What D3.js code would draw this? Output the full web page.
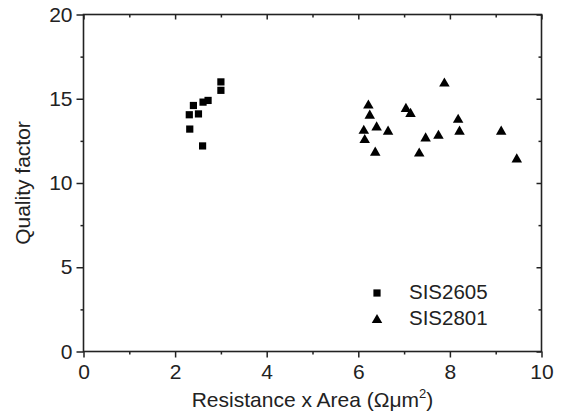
<!DOCTYPE html>
<html>
<head>
<meta charset="utf-8">
<script src="https://cdn.jsdelivr.net/npm/d3@7"></script>
<style>
  body { margin: 0; background: #fff; }
  text { font-family: "Liberation Sans", Arial, sans-serif; fill: #222; }
</style>
</head>
<body>
<div id="chart"></div>
<script>
// data
var sis2605X = [3.0, 3.0, 2.72, 2.61, 2.40, 2.51, 2.31, 2.32, 2.60];
var sis2605Y = [16.0, 15.5, 14.9, 14.8, 14.6, 14.1, 14.05, 13.2, 12.2];

var sis2801X = [7.88, 6.22, 6.25, 7.04, 7.14, 6.12, 6.40, 6.65, 6.14, 6.37, 7.47, 7.75, 7.33, 8.18, 8.21, 9.12, 9.46];
var sis2801Y = [15.9, 14.6, 14.0, 14.4, 14.1, 13.1, 13.3, 13.05, 12.55, 11.8, 12.65, 12.8, 11.75, 13.75, 13.05, 13.05, 11.4];

var xTicks = [0, 2, 4, 6, 8, 10];
var yTicks = [0, 5, 10, 15, 20];

var width = 563, height = 413;
var margin = {left: 83.5, right: 21.5, top: 14.5, bottom: 61.5};

var svg = d3.select("#chart").append("svg")
  .attr("width", width)
  .attr("height", height);

var xScale = d3.scaleLinear().domain([0, 10]).range([margin.left, width - margin.right]);
var yScale = d3.scaleLinear().domain([0, 20]).range([height - margin.bottom, margin.top]);

var x0 = xScale(0), x1 = xScale(10), y0 = yScale(0), y1 = yScale(20);

// axes: outward ticks bottom/left, inward on the mirrored top/right
function styleAxis(g) {
  g.select(".domain").remove();
  g.selectAll("line").attr("stroke", "#222").attr("stroke-width", 1.5);
  g.selectAll("text").style("font-size", "21px").attr("fill", "#222");
}

var minorX = d3.range(1, 10, 2);
var minorY = [2.5, 7.5, 12.5, 17.5];

svg.append("g").attr("transform", "translate(0," + y0 + ")")
  .call(d3.axisBottom(xScale).tickValues(xTicks).tickSize(6).tickPadding(7).tickFormat(d3.format("d")))
  .call(styleAxis);
svg.append("g").attr("transform", "translate(0," + y0 + ")")
  .call(d3.axisBottom(xScale).tickValues(minorX).tickSize(3).tickFormat(""))
  .call(styleAxis);

svg.append("g").attr("transform", "translate(" + x0 + ",0)")
  .call(d3.axisLeft(yScale).tickValues(yTicks).tickSize(7).tickPadding(4).tickFormat(d3.format("d")))
  .call(styleAxis);
svg.append("g").attr("transform", "translate(" + x0 + ",0)")
  .call(d3.axisLeft(yScale).tickValues(minorY).tickSize(3).tickFormat(""))
  .call(styleAxis);

svg.append("g").attr("transform", "translate(0," + y1 + ")")
  .call(d3.axisBottom(xScale).tickValues(xTicks).tickSize(5).tickFormat(""))
  .call(styleAxis);
svg.append("g").attr("transform", "translate(0," + y1 + ")")
  .call(d3.axisBottom(xScale).tickValues(minorX).tickSize(3).tickFormat(""))
  .call(styleAxis);

svg.append("g").attr("transform", "translate(" + x1 + ",0)")
  .call(d3.axisLeft(yScale).tickValues(yTicks).tickSize(5).tickFormat(""))
  .call(styleAxis);
svg.append("g").attr("transform", "translate(" + x1 + ",0)")
  .call(d3.axisLeft(yScale).tickValues(minorY).tickSize(3).tickFormat(""))
  .call(styleAxis);

// frame
svg.append("rect")
  .attr("x", x0).attr("y", y1)
  .attr("width", x1 - x0).attr("height", y0 - y1)
  .attr("fill", "none").attr("stroke", "#222").attr("stroke-width", 1.6);

// axis titles
svg.append("text")
  .attr("x", (x0 + x1) / 2).attr("y", 407)
  .attr("text-anchor", "middle")
  .style("font-size", "21px")
  .html('Resistance x Area (\u03A9\u03BCm<tspan dy="-9" font-size="13px">2</tspan><tspan dy="9">)</tspan>');

svg.append("text")
  .attr("transform", "translate(30," + ((y0 + y1) / 2) + ") rotate(-90)")
  .attr("text-anchor", "middle")
  .style("font-size", "21px")
  .text("Quality factor");

// markers
var sqData = sis2605X.map(function(d, i) { return {x: d, y: sis2605Y[i]}; });
var triData = sis2801X.map(function(d, i) { return {x: d, y: sis2801Y[i]}; });

var square = d3.symbol().type(d3.symbolSquare).size(52);
var triangle = d3.symbol().type(d3.symbolTriangle).size(48);

svg.append("g").selectAll("path")
  .data(sqData).enter().append("path")
  .attr("d", square)
  .attr("transform", function(d) { return "translate(" + xScale(d.x) + "," + yScale(d.y) + ")"; })
  .attr("fill", "#000");

svg.append("g").selectAll("path")
  .data(triData).enter().append("path")
  .attr("d", triangle)
  .attr("transform", function(d) { return "translate(" + xScale(d.x) + "," + yScale(d.y) + ")"; })
  .attr("fill", "#000");

// legend
var legend = svg.append("g");
legend.append("path").attr("d", square).attr("transform", "translate(377,293)").attr("fill", "#000");
legend.append("text").attr("x", 409).attr("y", 299).style("font-size", "20.5px").text("SIS2605");
legend.append("path").attr("d", triangle).attr("transform", "translate(377,320)").attr("fill", "#000");
legend.append("text").attr("x", 409).attr("y", 325).style("font-size", "20.5px").text("SIS2801");
</script>
</body>
</html>
